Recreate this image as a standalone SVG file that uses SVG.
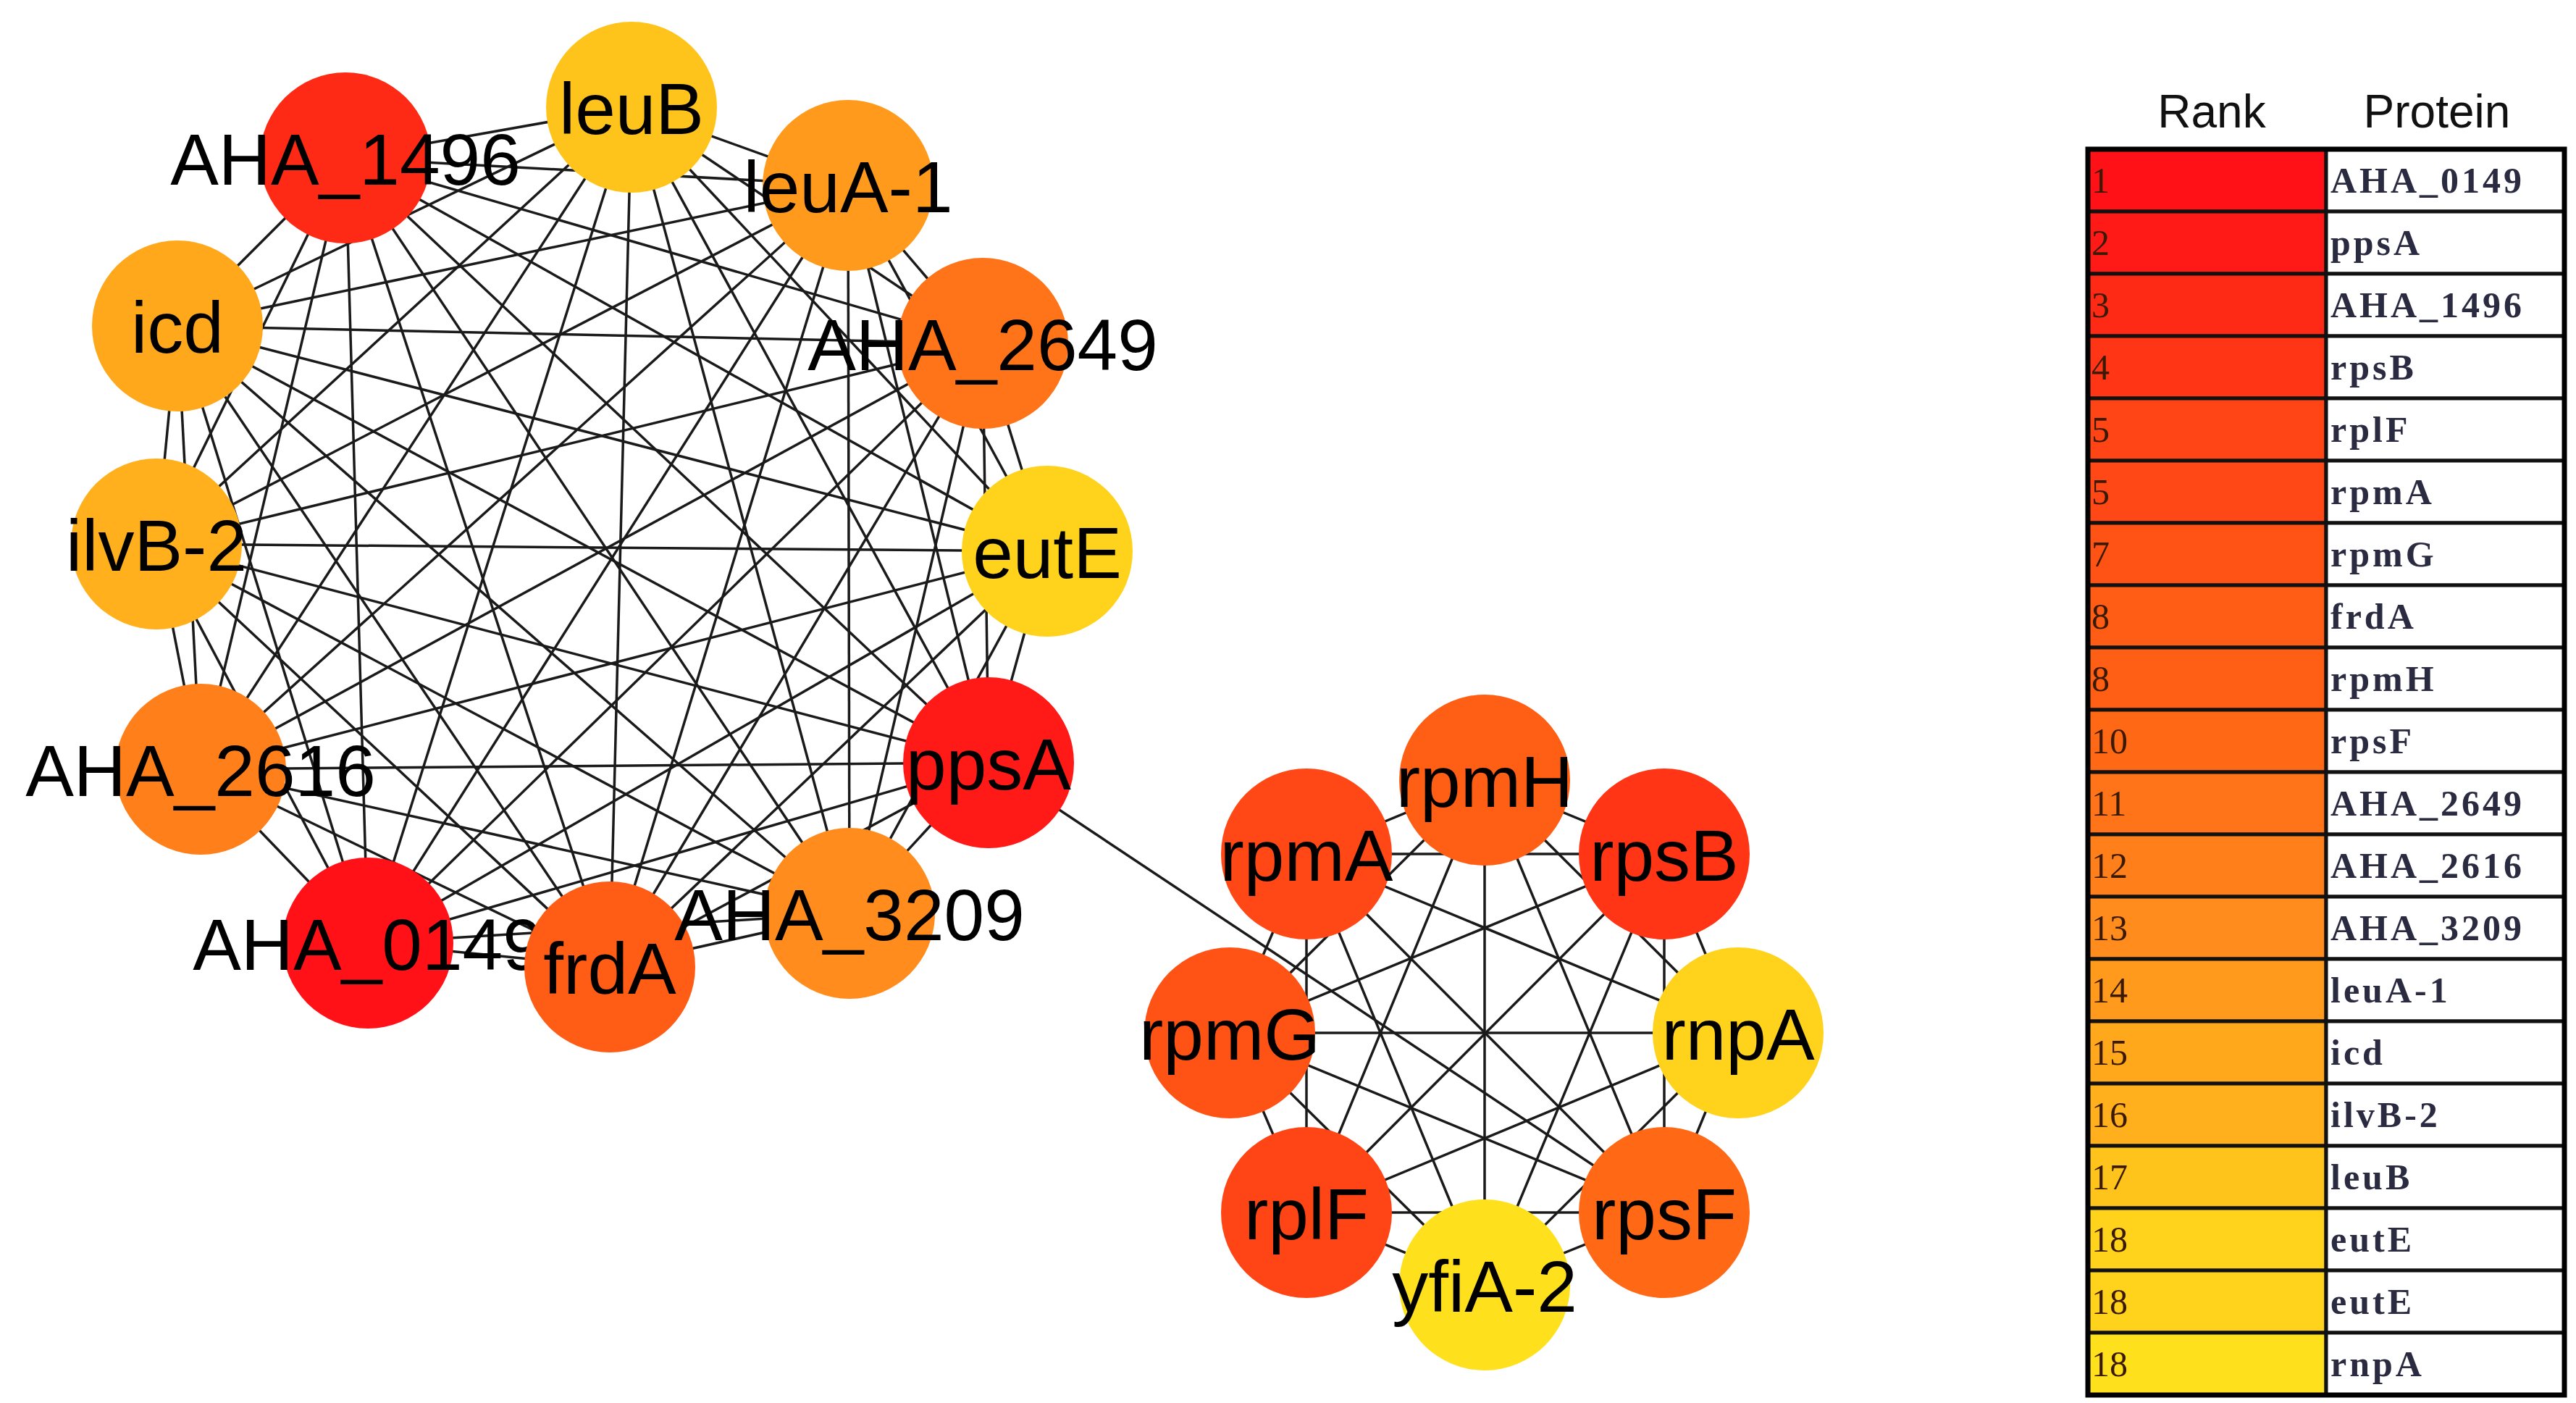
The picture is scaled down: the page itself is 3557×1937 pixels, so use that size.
<svg xmlns="http://www.w3.org/2000/svg" width="3557" height="1937" viewBox="0 0 3557 1937">
<style>
.e{stroke:#1a1a1a;stroke-width:3.5}
.n text{font-family:"Liberation Sans",Arial,sans-serif;font-size:100px;text-anchor:middle;fill:#000}
.h{font-family:"Liberation Sans",Arial,sans-serif;font-size:64px;text-anchor:middle;fill:#111}
.rk{font-family:"Liberation Serif",serif;font-size:50px;fill:#3a1a00}
.pt{font-family:"Liberation Serif",serif;font-size:50px;font-weight:bold;fill:#2a2a40;letter-spacing:4px}
.cell{stroke:#111;stroke-width:5}
</style>
<rect width="3557" height="1937" fill="#fff"/>
<g id="connectors">
<line class="e" x1="872" y1="148" x2="477" y2="218"/><line class="e" x1="872" y1="148" x2="1171" y2="256"/><line class="e" x1="872" y1="148" x2="245" y2="450"/><line class="e" x1="872" y1="148" x2="1357" y2="474"/><line class="e" x1="872" y1="148" x2="216" y2="751"/><line class="e" x1="872" y1="148" x2="1446" y2="761"/><line class="e" x1="872" y1="148" x2="277" y2="1062"/><line class="e" x1="872" y1="148" x2="1365" y2="1053"/><line class="e" x1="872" y1="148" x2="508" y2="1302"/><line class="e" x1="872" y1="148" x2="842" y2="1335"/><line class="e" x1="872" y1="148" x2="1173" y2="1261"/>
<line class="e" x1="477" y1="218" x2="1171" y2="256"/><line class="e" x1="477" y1="218" x2="245" y2="450"/><line class="e" x1="477" y1="218" x2="1357" y2="474"/><line class="e" x1="477" y1="218" x2="216" y2="751"/><line class="e" x1="477" y1="218" x2="1446" y2="761"/><line class="e" x1="477" y1="218" x2="277" y2="1062"/><line class="e" x1="477" y1="218" x2="1365" y2="1053"/><line class="e" x1="477" y1="218" x2="508" y2="1302"/><line class="e" x1="477" y1="218" x2="842" y2="1335"/><line class="e" x1="477" y1="218" x2="1173" y2="1261"/>
<line class="e" x1="1171" y1="256" x2="245" y2="450"/><line class="e" x1="1171" y1="256" x2="1357" y2="474"/><line class="e" x1="1171" y1="256" x2="216" y2="751"/><line class="e" x1="1171" y1="256" x2="1446" y2="761"/><line class="e" x1="1171" y1="256" x2="277" y2="1062"/><line class="e" x1="1171" y1="256" x2="1365" y2="1053"/><line class="e" x1="1171" y1="256" x2="508" y2="1302"/><line class="e" x1="1171" y1="256" x2="842" y2="1335"/><line class="e" x1="1171" y1="256" x2="1173" y2="1261"/>
<line class="e" x1="245" y1="450" x2="1357" y2="474"/><line class="e" x1="245" y1="450" x2="216" y2="751"/><line class="e" x1="245" y1="450" x2="1446" y2="761"/><line class="e" x1="245" y1="450" x2="277" y2="1062"/><line class="e" x1="245" y1="450" x2="1365" y2="1053"/><line class="e" x1="245" y1="450" x2="508" y2="1302"/><line class="e" x1="245" y1="450" x2="842" y2="1335"/><line class="e" x1="245" y1="450" x2="1173" y2="1261"/>
<line class="e" x1="1357" y1="474" x2="216" y2="751"/><line class="e" x1="1357" y1="474" x2="1446" y2="761"/><line class="e" x1="1357" y1="474" x2="277" y2="1062"/><line class="e" x1="1357" y1="474" x2="1365" y2="1053"/><line class="e" x1="1357" y1="474" x2="508" y2="1302"/><line class="e" x1="1357" y1="474" x2="842" y2="1335"/><line class="e" x1="1357" y1="474" x2="1173" y2="1261"/>
<line class="e" x1="216" y1="751" x2="1446" y2="761"/><line class="e" x1="216" y1="751" x2="277" y2="1062"/><line class="e" x1="216" y1="751" x2="1365" y2="1053"/><line class="e" x1="216" y1="751" x2="508" y2="1302"/><line class="e" x1="216" y1="751" x2="842" y2="1335"/><line class="e" x1="216" y1="751" x2="1173" y2="1261"/>
<line class="e" x1="1446" y1="761" x2="277" y2="1062"/><line class="e" x1="1446" y1="761" x2="1365" y2="1053"/><line class="e" x1="1446" y1="761" x2="508" y2="1302"/><line class="e" x1="1446" y1="761" x2="842" y2="1335"/><line class="e" x1="1446" y1="761" x2="1173" y2="1261"/>
<line class="e" x1="277" y1="1062" x2="1365" y2="1053"/><line class="e" x1="277" y1="1062" x2="508" y2="1302"/><line class="e" x1="277" y1="1062" x2="842" y2="1335"/><line class="e" x1="277" y1="1062" x2="1173" y2="1261"/>
<line class="e" x1="1365" y1="1053" x2="508" y2="1302"/><line class="e" x1="1365" y1="1053" x2="842" y2="1335"/><line class="e" x1="1365" y1="1053" x2="1173" y2="1261"/>
<line class="e" x1="508" y1="1302" x2="842" y2="1335"/><line class="e" x1="508" y1="1302" x2="1173" y2="1261"/><line class="e" x1="842" y1="1335" x2="1173" y2="1261"/>
<line class="e" x1="1365" y1="1053" x2="2298" y2="1674"/>
<line class="e" x1="2050" y1="1077" x2="1804" y2="1179"/><line class="e" x1="2050" y1="1077" x2="2298" y2="1179"/><line class="e" x1="2050" y1="1077" x2="1698" y2="1426"/><line class="e" x1="2050" y1="1077" x2="2400" y2="1426"/><line class="e" x1="2050" y1="1077" x2="1804" y2="1674"/><line class="e" x1="2050" y1="1077" x2="2298" y2="1674"/><line class="e" x1="2050" y1="1077" x2="2050" y2="1774"/>
<line class="e" x1="1804" y1="1179" x2="2298" y2="1179"/><line class="e" x1="1804" y1="1179" x2="1698" y2="1426"/><line class="e" x1="1804" y1="1179" x2="2400" y2="1426"/><line class="e" x1="1804" y1="1179" x2="1804" y2="1674"/><line class="e" x1="1804" y1="1179" x2="2298" y2="1674"/><line class="e" x1="1804" y1="1179" x2="2050" y2="1774"/>
<line class="e" x1="2298" y1="1179" x2="1698" y2="1426"/><line class="e" x1="2298" y1="1179" x2="2400" y2="1426"/><line class="e" x1="2298" y1="1179" x2="1804" y2="1674"/><line class="e" x1="2298" y1="1179" x2="2298" y2="1674"/><line class="e" x1="2298" y1="1179" x2="2050" y2="1774"/>
<line class="e" x1="1698" y1="1426" x2="2400" y2="1426"/><line class="e" x1="1698" y1="1426" x2="1804" y2="1674"/><line class="e" x1="1698" y1="1426" x2="2298" y2="1674"/><line class="e" x1="1698" y1="1426" x2="2050" y2="1774"/>
<line class="e" x1="2400" y1="1426" x2="1804" y2="1674"/><line class="e" x1="2400" y1="1426" x2="2298" y2="1674"/><line class="e" x1="2400" y1="1426" x2="2050" y2="1774"/>
<line class="e" x1="1804" y1="1674" x2="2298" y2="1674"/><line class="e" x1="1804" y1="1674" x2="2050" y2="1774"/><line class="e" x1="2298" y1="1674" x2="2050" y2="1774"/>
</g>
<g class="n">
<g id="leuB"><circle cx="872" cy="148" r="118" fill="#FFC41C"/><text x="872" y="185">leuB</text></g>
<g id="AHA_1496"><circle cx="477" cy="218" r="118" fill="#FF2A15"/><text x="477" y="255">AHA_1496</text></g>
<g id="leuA-1"><circle cx="1171" cy="256" r="118" fill="#FF9A1C"/><text x="1171" y="293">leuA-1</text></g>
<g id="icd"><circle cx="245" cy="450" r="118" fill="#FFA81C"/><text x="245" y="487">icd</text></g>
<g id="AHA_2649"><circle cx="1357" cy="474" r="118" fill="#FF7418"/><text x="1357" y="511">AHA_2649</text></g>
<g id="ilvB-2"><circle cx="216" cy="751" r="118" fill="#FFB01C"/><text x="216" y="788">ilvB-2</text></g>
<g id="eutE"><circle cx="1446" cy="761" r="118" fill="#FFD21C"/><text x="1446" y="798">eutE</text></g>
<g id="AHA_2616"><circle cx="277" cy="1062" r="118" fill="#FF801A"/><text x="277" y="1099">AHA_2616</text></g>
<g id="ppsA"><circle cx="1365" cy="1053" r="118" fill="#FF1A17"/><text x="1365" y="1090">ppsA</text></g>
<g id="AHA_0149"><circle cx="508" cy="1302" r="118" fill="#FF1117"/><text x="508" y="1339">AHA_0149</text></g>
<g id="frdA"><circle cx="842" cy="1335" r="118" fill="#FF5C15"/><text x="842" y="1372">frdA</text></g>
<g id="AHA_3209"><circle cx="1173" cy="1261" r="118" fill="#FF8C1C"/><text x="1173" y="1298">AHA_3209</text></g>
<g id="rpmH"><circle cx="2050" cy="1077" r="118" fill="#FF5E15"/><text x="2050" y="1114">rpmH</text></g>
<g id="rpmA"><circle cx="1804" cy="1179" r="118" fill="#FF4815"/><text x="1804" y="1216">rpmA</text></g>
<g id="rpsB"><circle cx="2298" cy="1179" r="118" fill="#FF3515"/><text x="2298" y="1216">rpsB</text></g>
<g id="rpmG"><circle cx="1698" cy="1426" r="118" fill="#FF5215"/><text x="1698" y="1463">rpmG</text></g>
<g id="rnpA"><circle cx="2400" cy="1426" r="118" fill="#FFD21C"/><text x="2400" y="1463">rnpA</text></g>
<g id="rplF"><circle cx="1804" cy="1674" r="118" fill="#FF4515"/><text x="1804" y="1711">rplF</text></g>
<g id="rpsF"><circle cx="2298" cy="1674" r="118" fill="#FF6815"/><text x="2298" y="1711">rpsF</text></g>
<g id="yfiA-2"><circle cx="2050" cy="1774" r="118" fill="#FFE01C"/><text x="2050" y="1811">yfiA-2</text></g>
</g>
<g id="legend">
<text class="h" x="3054" y="176">Rank</text><text class="h" x="3365" y="176">Protein</text>
<g class="cell">
<rect x="2883" y="206" width="329" height="86" fill="#FF1117"/><rect x="3212" y="206" width="329" height="86" fill="#fff"/>
<rect x="2883" y="292" width="329" height="86" fill="#FF1A17"/><rect x="3212" y="292" width="329" height="86" fill="#fff"/>
<rect x="2883" y="378" width="329" height="86" fill="#FF2A15"/><rect x="3212" y="378" width="329" height="86" fill="#fff"/>
<rect x="2883" y="464" width="329" height="86" fill="#FF3515"/><rect x="3212" y="464" width="329" height="86" fill="#fff"/>
<rect x="2883" y="550" width="329" height="86" fill="#FF4515"/><rect x="3212" y="550" width="329" height="86" fill="#fff"/>
<rect x="2883" y="636" width="329" height="86" fill="#FF4815"/><rect x="3212" y="636" width="329" height="86" fill="#fff"/>
<rect x="2883" y="722" width="329" height="86" fill="#FF5215"/><rect x="3212" y="722" width="329" height="86" fill="#fff"/>
<rect x="2883" y="808" width="329" height="86" fill="#FF5C15"/><rect x="3212" y="808" width="329" height="86" fill="#fff"/>
<rect x="2883" y="894" width="329" height="86" fill="#FF5E15"/><rect x="3212" y="894" width="329" height="86" fill="#fff"/>
<rect x="2883" y="980" width="329" height="86" fill="#FF6815"/><rect x="3212" y="980" width="329" height="86" fill="#fff"/>
<rect x="2883" y="1066" width="329" height="86" fill="#FF7418"/><rect x="3212" y="1066" width="329" height="86" fill="#fff"/>
<rect x="2883" y="1152" width="329" height="86" fill="#FF801A"/><rect x="3212" y="1152" width="329" height="86" fill="#fff"/>
<rect x="2883" y="1238" width="329" height="86" fill="#FF8C1C"/><rect x="3212" y="1238" width="329" height="86" fill="#fff"/>
<rect x="2883" y="1324" width="329" height="86" fill="#FF9A1C"/><rect x="3212" y="1324" width="329" height="86" fill="#fff"/>
<rect x="2883" y="1410" width="329" height="86" fill="#FFA81C"/><rect x="3212" y="1410" width="329" height="86" fill="#fff"/>
<rect x="2883" y="1496" width="329" height="86" fill="#FFB01C"/><rect x="3212" y="1496" width="329" height="86" fill="#fff"/>
<rect x="2883" y="1582" width="329" height="86" fill="#FFC41C"/><rect x="3212" y="1582" width="329" height="86" fill="#fff"/>
<rect x="2883" y="1668" width="329" height="86" fill="#FFD21C"/><rect x="3212" y="1668" width="329" height="86" fill="#fff"/>
<rect x="2883" y="1754" width="329" height="86" fill="#FFD21C"/><rect x="3212" y="1754" width="329" height="86" fill="#fff"/>
<rect x="2883" y="1840" width="329" height="86" fill="#FFE01C"/><rect x="3212" y="1840" width="329" height="86" fill="#fff"/>
</g>
<rect x="2883" y="206" width="658" height="1720" fill="none" stroke="#000" stroke-width="7"/>
<g class="rk">
<text x="2888" y="266">1</text><text x="2888" y="352">2</text><text x="2888" y="438">3</text><text x="2888" y="524">4</text><text x="2888" y="610">5</text><text x="2888" y="696">5</text><text x="2888" y="782">7</text><text x="2888" y="868">8</text><text x="2888" y="954">8</text><text x="2888" y="1040">10</text><text x="2888" y="1126">11</text><text x="2888" y="1212">12</text><text x="2888" y="1298">13</text><text x="2888" y="1384">14</text><text x="2888" y="1470">15</text><text x="2888" y="1556">16</text><text x="2888" y="1642">17</text><text x="2888" y="1728">18</text><text x="2888" y="1814">18</text><text x="2888" y="1900">18</text>
</g>
<g class="pt">
<text x="3218" y="266">AHA_0149</text><text x="3218" y="352">ppsA</text><text x="3218" y="438">AHA_1496</text><text x="3218" y="524">rpsB</text><text x="3218" y="610">rplF</text><text x="3218" y="696">rpmA</text><text x="3218" y="782">rpmG</text><text x="3218" y="868">frdA</text><text x="3218" y="954">rpmH</text><text x="3218" y="1040">rpsF</text><text x="3218" y="1126">AHA_2649</text><text x="3218" y="1212">AHA_2616</text><text x="3218" y="1298">AHA_3209</text><text x="3218" y="1384">leuA-1</text><text x="3218" y="1470">icd</text><text x="3218" y="1556">ilvB-2</text><text x="3218" y="1642">leuB</text><text x="3218" y="1728">eutE</text><text x="3218" y="1814">eutE</text><text x="3218" y="1900">rnpA</text>
</g>
</g>
</svg>
